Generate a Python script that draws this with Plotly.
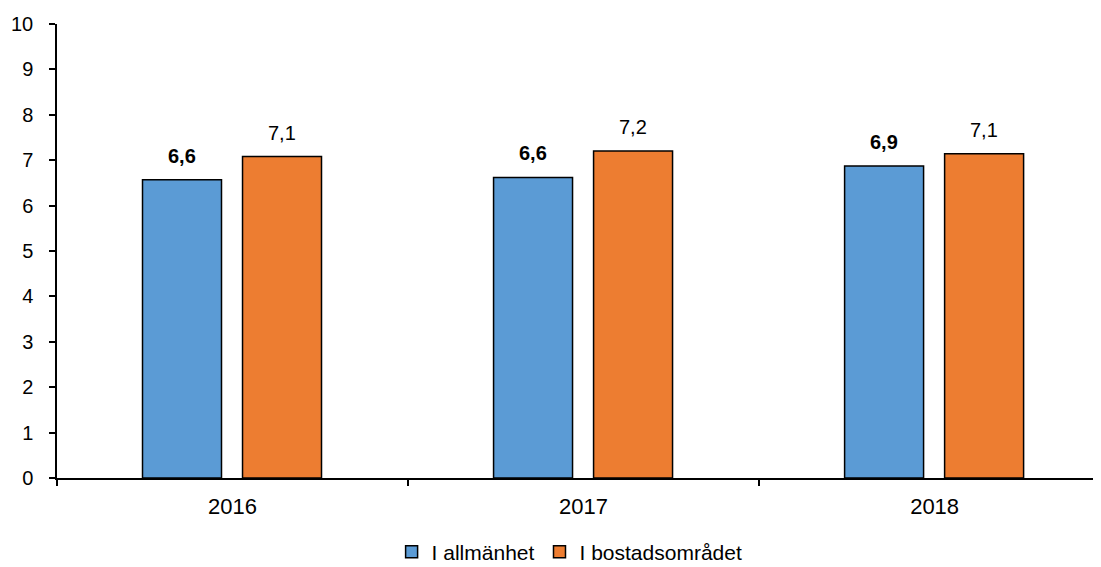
import plotly.graph_objects as go

years = ["2016", "2017", "2018"]
allmanhet = [6.57, 6.62, 6.87]
bostad = [7.08, 7.20, 7.14]
series_names = ["I allmänhet", "I bostadsområdet"]
y_ticks = list(range(0, 11))

FONT = "Liberation Sans, Arial, sans-serif"
BAR_W = 0.225
OFFSETS = [-0.2564, 0.0285]
COLORS = ["#5B9BD5", "#ED7D31"]
BOLD = [True, False]

fig = go.Figure()
annotations = []
for s, (vals, name) in enumerate(zip([allmanhet, bostad], series_names)):
    fig.add_trace(go.Bar(
        x=years, y=vals, name=name,
        width=[BAR_W] * len(vals), offset=[OFFSETS[s]] * len(vals),
        marker=dict(color=COLORS[s], line=dict(color="black", width=1.5)),
        cliponaxis=False,
    ))
    for i, v in enumerate(vals):
        txt = f"{v:.1f}".replace(".", ",")
        if BOLD[s]:
            txt = f"<b>{txt}</b>"
        annotations.append(dict(
            x=i + OFFSETS[s] + BAR_W / 2, y=v, xref="x", yref="y",
            text=txt, showarrow=False, yanchor="bottom", xanchor="center",
            yshift=11, font=dict(family=FONT, size=20, color="black"),
        ))

fig.update_layout(
    width=1101, height=567,
    margin=dict(l=49, r=8, t=16, b=97, autoexpand=False),
    paper_bgcolor="white", plot_bgcolor="white",
    barmode="overlay",
    font=dict(family=FONT, size=20, color="black"),
    annotations=annotations,
    showlegend=True,
    legend=dict(orientation="h", x=0.491, xanchor="center", y=-0.163, yanchor="middle",
                font=dict(family=FONT, size=21, color="black"),
                traceorder="normal"),
    xaxis=dict(type="category", range=[-0.5, 2.474], showline=True, linecolor="black",
               linewidth=1.5, ticks="outside", tickson="boundaries", ticklen=6,
               tickcolor="black", tickwidth=1.5, showgrid=False, zeroline=False,
               automargin=False, ticklabelstandoff=8,
               tickfont=dict(family=FONT, size=22, color="black")),
    yaxis=dict(range=[0, 10], tickvals=y_ticks, showline=True, linecolor="black",
               linewidth=1.5, ticks="outside", ticklen=6, tickcolor="black", tickwidth=1.5,
               showgrid=False, zeroline=False, automargin=False, ticklabelstandoff=12,
               tickfont=dict(family=FONT, size=20, color="black")),
)

fig.write_html("out.html")
